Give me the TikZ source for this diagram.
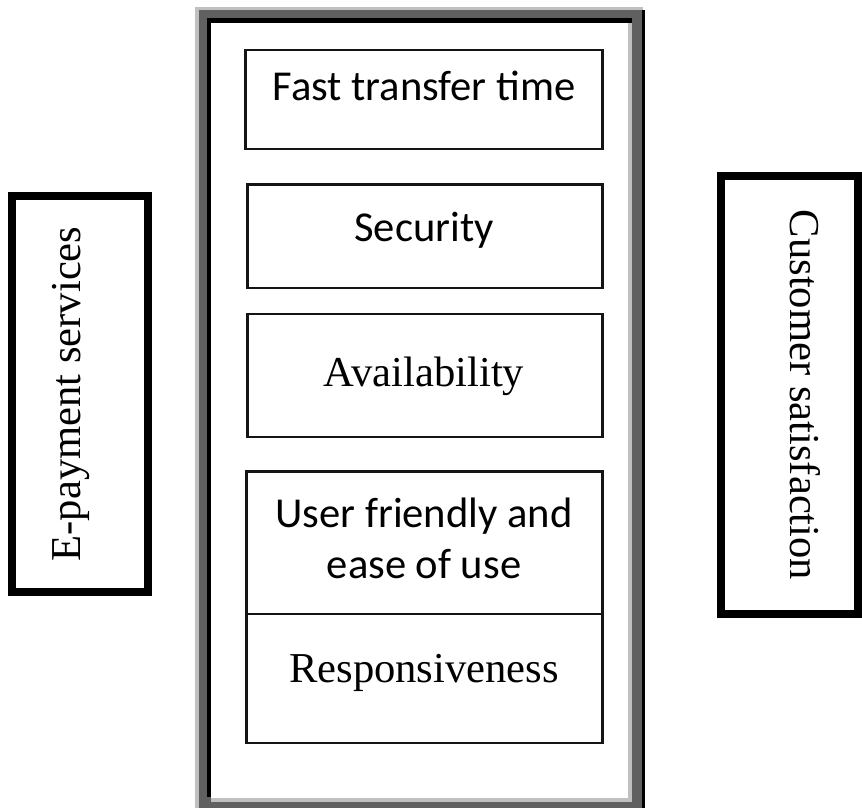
\documentclass[tikz,border=0pt]{standalone}
\usepackage{fontspec}
\setmainfont{Liberation Serif}
\newfontfamily\calibri{Carlito}
\definecolor{framedark}{HTML}{606060}
\definecolor{framelight}{HTML}{C0C0C0}
\begin{document}
\begin{tikzpicture}[x=1pt,y=-1pt,
  cell/.style={draw=black!92, line width=2.7pt},
  sidebox/.style={draw=black, line width=8pt},
  sanslabel/.style={font=\calibri\fontsize{42.6}{51}\selectfont, inner sep=0pt, anchor=base},
  seriflabel/.style={font=\fontsize{42.6}{51}\selectfont, inner sep=0pt, anchor=base},
]
\useasboundingbox (0,0) rectangle (862,808);
% outer frame (3D border)
\fill[framedark] (199,10) rectangle (642,808);
\fill[framelight] (195,7) rectangle (199,808);
\fill[framelight] (195,7) rectangle (643,10);
\fill[black] (642,10) rectangle (645,808);
\fill[black] (207,18) rectangle (211,797);
\fill[black] (207,18) rectangle (632,23);
\fill[framelight] (628,23) rectangle (632,802);
\fill[framelight] (211,798) rectangle (632,802);
\fill[white] (211,23) rectangle (628,798);
% inner boxes
\draw[cell] (245.5,50) coordinate (fastA) rectangle (602.5,149) coordinate (fastB);
\draw[cell] (247.5,184.5) coordinate (secA) rectangle (602.5,288) coordinate (secB);
\draw[cell] (247.5,314) coordinate (avaA) rectangle (602.5,437) coordinate (avaB);
\draw[cell] (246.5,471.5) coordinate (useA) rectangle (602.5,614) coordinate (useB);
\draw[cell] (246.5,614) coordinate (resA) rectangle (602.5,743) coordinate (resB);
% labels
\node[sanslabel] (fast) at (424,100) {Fast transfer time};
\node[sanslabel] (sec) at (424,241) {Security};
\node[seriflabel] (ava) at (424,386) {Availability};
\node[sanslabel] (use1) at (424,527) {User friendly and};
\node[sanslabel] (use2) at (424,578) {ease of use};
\node[seriflabel] (res) at (424,682) {Responsiveness};
% side boxes
\draw[sidebox] (12,196) coordinate (leftA) rectangle (148,592) coordinate (leftB);
\node[seriflabel, rotate=90] (epay) at (80,394) {E-payment services};
\draw[sidebox] (721,176) coordinate (rightA) rectangle (858,614) coordinate (rightB);
\node[seriflabel, rotate=-90] (cust) at (790,395) {Customer satisfaction};
\end{tikzpicture}
\end{document}
